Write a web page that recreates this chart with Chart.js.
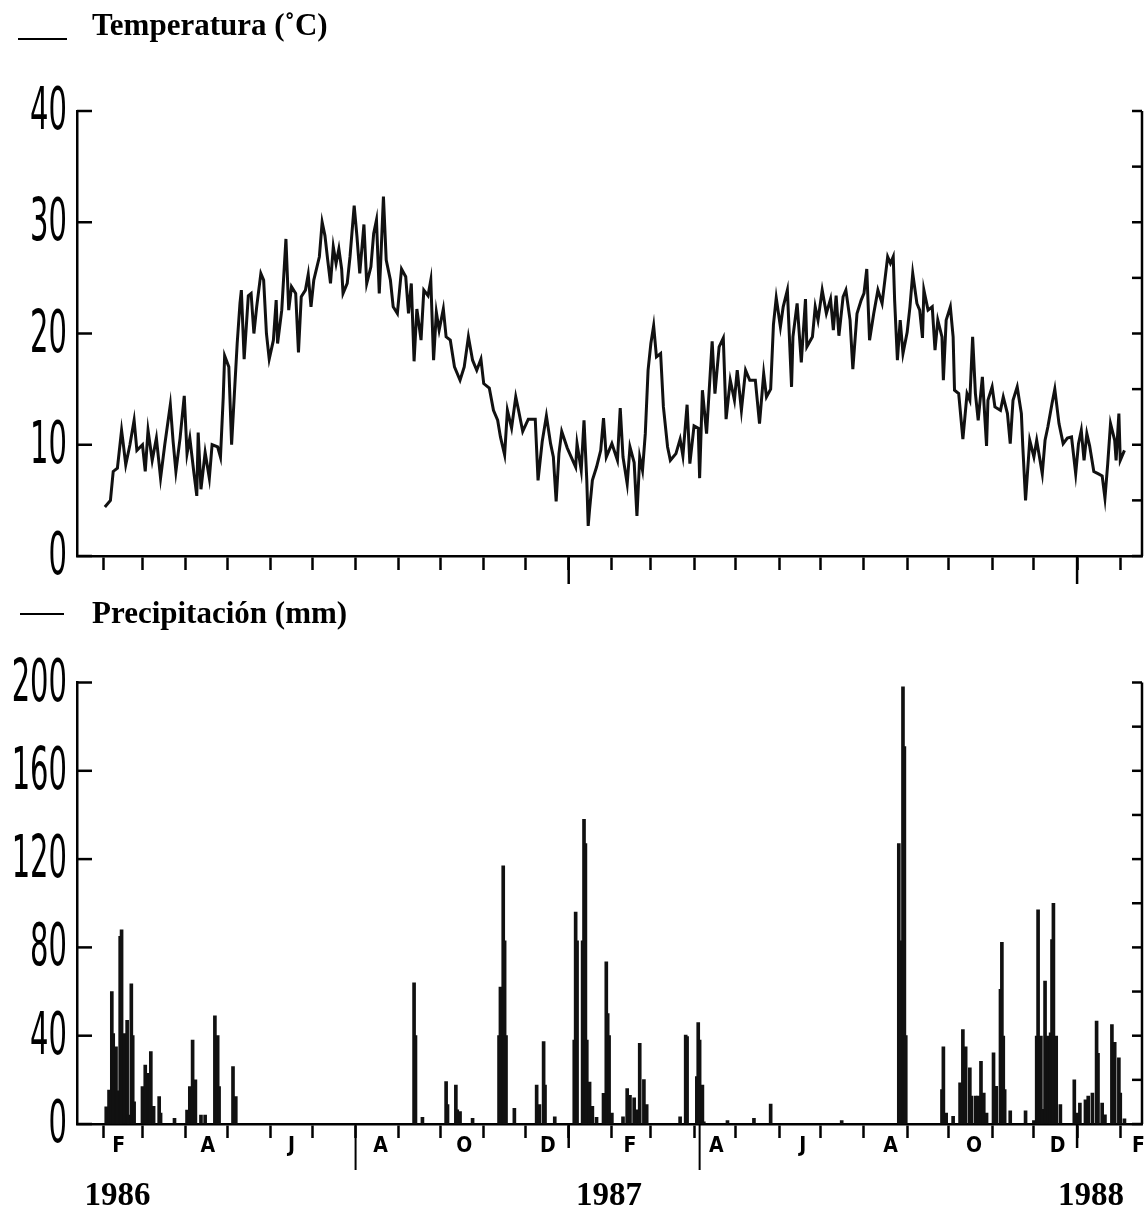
<!DOCTYPE html>
<html>
<head>
<meta charset="utf-8">
<script src="https://cdn.jsdelivr.net/npm/chart.js@4.4.0/dist/chart.umd.min.js"></script>
<style>
html,body{margin:0;padding:0;background:#fff;}
#wrap{position:relative;width:1144px;height:1210px;background:#fff;}
#c1{position:absolute;left:0;top:0;}
#c2{position:absolute;left:0;top:600px;}
</style>
</head>
<body>
<div id="wrap">
<canvas id="c1" width="1144" height="600"></canvas>
<canvas id="c2" width="1144" height="610"></canvas>
</div>
<script>
// ---------------- DATA (day = days since 1 Jan 1986) ----------------
const tempDays = [
  32,36,38,41,44,45,47,50,53,55,
  59,61,63,66,69,72,75,79,81,83,
  86,89,91,93,96,98,99,101,104,107,
  109,113,115,117,118,121,123,125,127,129,
  130,132,135,137,139,141,144,146,148,150,
  153,155,156,159,162,164,166,169,171,173,
  176,178,180,182,186,188,190,192,194,196,
  198,200,202,203,206,208,211,213,215,218,
  220,223,225,227,229,230,232,234,237,239,
  242,245,248,250,252,254,256,259,261,264,
  266,268,270,272,275,277,280,283,287,290,
  293,296,299,302,304,308,311,314,316,319,
  321,324,327,329,332,336,341,343,346,349,
  352,354,356,358,360,364,370,371,374,376,
  378,379,380,382,385,388,390,392,396,400,
  402,404,407,409,412,414,416,418,420,422,
  424,426,428,431,433,436,438,442,445,447,
  450,452,455,458,459,461,464,468,470,473,
  476,478,481,484,486,489,492,495,499,502,
  505,507,510,512,514,517,519,522,525,526,
  529,532,535,536,540,542,544,547,550,553,
  555,557,559,562,564,567,569,572,575,577,
  579,581,584,587,590,592,594,596,598,599,
  601,603,605,608,610,612,615,617,619,620,
  623,626,628,630,633,634,636,639,641,642,
  645,648,651,653,655,657,659,662,665,666,
  669,671,675,677,680,682,684,687,690,691,
  693,696,699,701,703,705,707,709,712,714,
  717,720,723,726,729,731,733,735,737,739,
  742,745,748,750,752,754,757,758,760,761,
  764
];
const tempValues = [
  4.4,5.0,7.6,7.9,11.3,10.3,8.2,10.0,12.2,9.5,
  10.0,7.6,11.3,8.6,10.6,7.0,10.0,13.6,10.3,7.6,
  10.6,14.4,9.2,10.6,7.4,5.4,11.1,6.0,9.3,7.0,
  10.0,9.8,8.9,14.3,18.0,17.0,10.0,14.6,19.1,22.7,
  23.9,17.7,23.4,23.6,20.0,22.4,25.4,24.8,20.0,17.7,
  19.4,23.0,19.1,22.1,28.5,22.1,24.2,23.6,18.3,23.3,
  23.9,25.3,22.4,24.8,26.9,30.0,28.8,26.6,24.5,27.8,
  26.3,27.6,25.8,23.6,24.5,26.9,31.5,28.7,25.4,29.8,
  24.5,26.0,29.0,30.2,23.6,26.3,32.3,26.6,24.8,22.4,
  21.8,25.8,25.1,21.8,24.5,17.5,22.2,19.4,23.9,23.4,
  24.8,17.6,21.9,20.3,22.2,19.7,19.4,17.0,15.8,17.0,
  19.7,17.6,16.7,17.7,15.5,15.1,13.1,12.2,10.7,9.1,
  13.1,11.5,14.3,13.1,11.2,12.3,12.3,6.8,10.3,12.6,
  10.1,8.9,4.9,9.2,11.2,9.7,8.0,10.1,7.7,12.2,
  6.8,2.7,4.2,6.8,8.0,9.5,12.4,8.9,10.1,8.6,
  13.3,8.9,6.5,9.8,8.4,3.6,8.9,7.7,11.0,16.7,
  19.1,20.7,17.9,18.2,13.4,9.8,8.6,9.2,10.5,9.0,
  13.6,8.3,11.7,11.5,7.0,14.9,11.0,19.3,14.6,18.8,
  19.6,12.3,15.8,14.0,16.7,13.1,16.7,15.8,15.8,11.9,
  16.4,14.3,15.0,20.8,23.2,20.6,22.4,23.9,15.2,19.7,
  22.7,17.4,23.1,18.8,19.7,22.4,21.2,23.9,21.8,23.1,
  20.3,23.4,19.8,23.3,23.9,21.2,16.8,21.8,23.0,23.6,
  25.8,19.4,21.8,23.9,22.7,24.8,26.9,26.3,26.9,23.0,
  17.6,21.2,18.2,20.1,22.4,25.4,22.7,22.1,19.6,23.9,
  22.1,22.4,18.5,21.2,19.7,15.8,21.2,22.4,19.7,14.9,
  14.6,10.5,14.6,14.0,19.7,14.6,12.2,16.1,9.9,14.0,
  15.2,13.4,13.1,14.3,12.8,10.1,14.0,15.2,12.8,9.9,
  5.0,10.4,8.9,10.4,8.9,7.4,10.4,11.6,13.7,15.0,
  11.9,10.1,10.6,10.7,7.4,10.1,11.3,8.6,11.0,9.9,
  7.6,7.4,7.2,5.2,8.3,11.9,10.4,8.6,12.8,8.6,
  9.5
];
const rainDays = [
  33,35,37,38,40,41,43,44,46,48,
  49,51,52,53,59,61,63,64,65,67,
  71,72,82,91,93,95,97,101,104,111,
  113,114,124,126,254,255,260,277,278,284,
  285,287,296,315,316,318,319,320,326,342,
  344,347,348,355,369,370,371,375,376,377,
  378,380,382,385,390,392,393,394,396,404,
  407,409,412,414,416,419,421,445,449,450,
  457,458,459,461,462,479,498,510,561,602,
  603,605,606,607,633,634,636,641,646,648,
  650,653,654,657,659,661,663,665,670,672,
  675,676,677,678,682,693,699,701,702,704,
  705,707,709,711,712,713,715,718,728,730,
  732,736,738,741,744,745,748,750,755,757,
  760,761,764
];
const rainValues = [
  7.8,15.4,60,41,35,15,85,88,41,47,
  4,63.5,40,10,17,26.7,23,15,32.8,8,
  12.4,5,2.6,6.3,17,38,20,4,4,49,
  40,17,26,12.4,64,40,3,19.2,8.8,17.6,
  6.4,5.6,2.6,40,62,117,83,40,7.1,17.6,
  8.8,37.3,17.6,3.3,38,96,83,83,138,127,
  38,19,8,3,13.9,73.5,50,40,5,3.3,
  16.1,13,11.9,6.4,36.5,20.1,8.8,3.3,40.3,39.6,
  21.5,46,38,17.6,1,1.5,2.6,9,1.5,127,
  83,198,171,40,15.6,35,5,3.5,18.6,42.8,
  35,25.4,12.6,12.6,12.6,28.4,14,5,32.2,17.1,
  61,82.3,39.8,15.6,6,6,1.5,39.8,97,39.8,
  6.7,64.7,39.8,41.3,83.5,100,39.8,8.8,20,5,
  9.5,11,12.6,14,46.6,32,9.5,4.2,45,37,
  30,14,2.3
];
// month boundaries (first day of each month, Feb 1986 .. Feb 1988)
const monthStartDays = [31,59,90,120,151,181,212,243,273,304,334,365,396,424,455,485,516,546,577,608,638,669,699,730,761];
// month initials shown under the lower axis and the day each one is centred on
const monthLabels = ['F','A','J','A','O','D','F','A','J','A','O','D','F'];
const monthLabelDays = [42,106,166,230,290,350,409,471,533,596,656,716,774];
const yearStartDays = [365, 730];
const yearLabels = ['1986','1987','1988'];
const yearLabelDays = [41, 394, 740];
const markerDays = [212, 459];
const tempTicks = [0,10,20,30,40];
const rainTicks = [0,40,80,120,160,200];
const tempTitle = 'Temperatura (\u02DAC)';
const rainTitle = 'Precipitación (mm)';
const X_MIN = 12, X_MAX = 776.6;

// ---------------- helpers ----------------
const monthMid = new Map();
monthLabels.forEach((lab, i) => monthMid.set(monthLabelDays[i], lab));

function line(ctx, x1, y1, x2, y2) {
  ctx.beginPath(); ctx.moveTo(x1, y1); ctx.lineTo(x2, y2); ctx.stroke();
}

function xAxis(showLabels, height) {
  return {
    type: 'linear', min: X_MIN, max: X_MAX, offset: false,
    afterBuildTicks(scale) {
      const t = [];
      if (showLabels) monthLabelDays.forEach(v => t.push({value: v}));
      monthStartDays.forEach(d => { if (d >= X_MIN && d <= X_MAX) t.push({value: d}); });
      scale.ticks = t;
    },
    afterFit(scale) { scale.height = height; },
    ticks: {
      display: showLabels, autoSkip: false, maxRotation: 0, minRotation: 0,
      padding: -2, color: '#000',
      font: {family: '"Liberation Sans Narrow", "DejaVu Sans Condensed", "Liberation Sans", sans-serif', size: 21, weight: 'bold', lineHeight: 1},
      callback: (v) => monthMid.get(v) || ''
    },
    grid: {
      display: true, offset: false, drawOnChartArea: false, drawTicks: true, tickLength: 14, tickWidth: 2.5,
      tickColor: (c) => (c.tick && monthMid.has(c.tick.value)) ? 'rgba(0,0,0,0)' : '#000'
    },
    border: {display: true, color: '#000', width: 2.5}
  };
}

function yAxis(max, step, width) {
  return {
    min: 0, max: max,
    afterFit(scale) { scale.width = width; },
    ticks: {display: false, stepSize: step},
    grid: {display: true, drawOnChartArea: false, drawTicks: false},
    border: {display: true, color: '#000', width: 2.5}
  };
}

function decor(o) {
  return {
    id: 'decor',
    afterDraw(chart) {
      const {ctx, chartArea: a, scales: {x, y}} = chart;
      ctx.save();
      ctx.strokeStyle = '#000'; ctx.fillStyle = '#000';
      ctx.lineCap = 'butt';
      // right border
      ctx.lineWidth = 2.5;
      line(ctx, a.right, a.top, a.right, a.bottom);
      // inward ticks left (major) and right (minor)
      o.ticks.forEach(v => { const py = y.getPixelForValue(v); line(ctx, a.left, py, a.left + 15, py); });
      for (let v = 0; v <= o.max + 1e-9; v += o.rightStep) {
        const py = y.getPixelForValue(v); line(ctx, a.right - 10, py, a.right, py);
      }
      // y labels (tall condensed digits)
      ctx.font = '58px "DejaVu Sans", "Liberation Sans", sans-serif';
      ctx.textAlign = 'right'; ctx.textBaseline = 'alphabetic';
      o.ticks.forEach(v => {
        const py = y.getPixelForValue(v);
        ctx.save(); ctx.translate(67, py + 18); ctx.scale(0.5, 1);
        ctx.fillText(String(v), 0, 0); ctx.restore();
      });
      // long year ticks
      yearStartDays.forEach(d => { const px = x.getPixelForValue(d); line(ctx, px, a.bottom, px, a.bottom + o.yearLen); });
      // marker lines
      if (o.markers) {
        ctx.lineWidth = 2;
        markerDays.forEach(d => { const px = x.getPixelForValue(d); line(ctx, px, a.bottom, px, a.bottom + 46); });
      }
      // legend
      ctx.lineWidth = 2;
      line(ctx, o.legX1, o.legLineY, o.legX2, o.legLineY);
      ctx.font = 'bold 31px "Liberation Serif", "Times New Roman", serif';
      ctx.textAlign = 'left'; ctx.textBaseline = 'alphabetic';
      ctx.fillText(o.title, 92, o.titleY);
      // year labels
      if (o.years) {
        ctx.font = 'bold 33px "Liberation Serif", "Times New Roman", serif';
        ctx.textAlign = 'center';
        yearLabels.forEach((lab, i) => ctx.fillText(lab, x.getPixelForValue(yearLabelDays[i]), o.yearY));
      }
      ctx.restore();
    }
  };
}

const LEFT = 77;

new Chart(document.getElementById('c1'), {
  type: 'line',
  data: {
    datasets: [{
      label: tempTitle,
      data: tempDays.map((d, i) => ({x: d, y: tempValues[i]})),
      borderColor: '#111', borderWidth: 3, pointRadius: 0, tension: 0, fill: false
    }]
  },
  options: {
    responsive: false, animation: false, devicePixelRatio: 1,
    layout: {padding: {top: 111, right: 2, left: 0, bottom: 0}},
    plugins: {legend: {display: false}, tooltip: {enabled: false}},
    scales: {x: xAxis(false, 44), y: yAxis(40, 10, LEFT)}
  },
  plugins: [decor({ticks: tempTicks, max: 40, rightStep: 5, yearLen: 28, markers: false,
    legX1: 18, legX2: 67, legLineY: 39, title: tempTitle, titleY: 35, years: false})]
});

new Chart(document.getElementById('c2'), {
  type: 'bar',
  data: {
    datasets: [{
      label: rainTitle,
      data: rainDays.map((d, i) => ({x: d, y: rainValues[i]})),
      backgroundColor: '#111', borderWidth: 0, barThickness: 3
    }]
  },
  options: {
    responsive: false, animation: false, devicePixelRatio: 1,
    layout: {padding: {top: 82.5, right: 2, left: 0, bottom: 0}},
    plugins: {legend: {display: false}, tooltip: {enabled: false}},
    scales: {x: xAxis(true, 86), y: yAxis(200, 40, LEFT)}
  },
  plugins: [decor({ticks: rainTicks, max: 200, rightStep: 20, yearLen: 24, markers: true,
    legX1: 20, legX2: 64, legLineY: 14, title: rainTitle, titleY: 23, years: true, yearY: 605})]
});
</script>
</body>
</html>
